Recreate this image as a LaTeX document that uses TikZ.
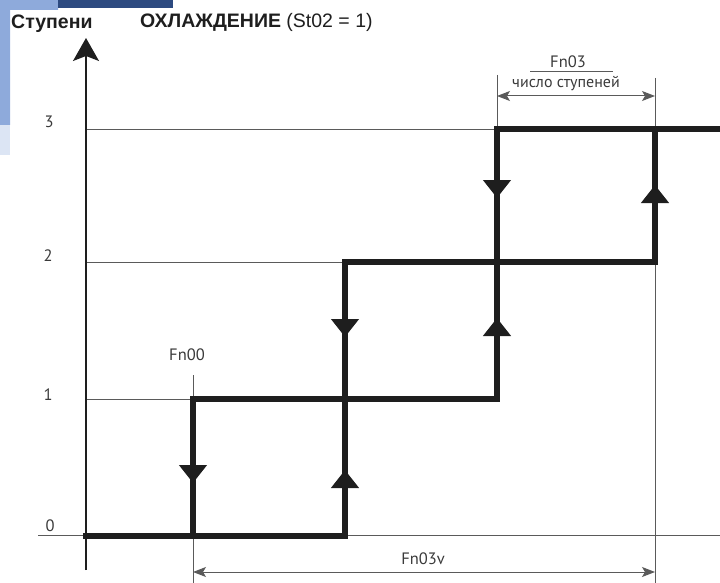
\documentclass[tikz,border=0pt]{standalone}
\usepackage{fontspec}
\setmainfont{PT Sans}
\newfontfamily\titlefont{Liberation Sans}
\usetikzlibrary{arrows.meta, decorations.markings}
\definecolor{stblack}{HTML}{1E1E1E}
\definecolor{stgray}{HTML}{3A3A3A}
\definecolor{gridgray}{HTML}{5A5A5A}
\definecolor{slidelight}{HTML}{8EAADB}
\definecolor{slidefade}{HTML}{DCE5F4}
\definecolor{slidedark}{HTML}{2D4A80}
\tikzset{
  stair/.style={line width=6pt, stblack, line cap=rect},
  gridln/.style={gridgray, line width=0.9pt},
  axisln/.style={stblack, line width=1.3pt,
    -{Stealth[width=26pt,length=23pt,inset=5pt]}},
  dimln/.style={gridgray, line width=1pt,
    {Stealth[width=10pt,length=13pt,inset=3pt]}-{Stealth[width=10pt,length=13pt,inset=3pt]}},
  lbl/.style={font=\fontsize{16.5}{18}\selectfont, text=stgray, inner sep=0pt},
  ttl/.style={font=\titlefont\fontsize{19.5}{21}\selectfont, text=stblack,
    inner sep=0pt, anchor=base west},
  flow/.style={postaction={decorate}, decoration={markings,
    mark=at position #1 with {\arrow{Triangle[width=27pt,length=18pt]}}}},
}
\begin{document}
\begin{tikzpicture}[x=1pt, y=-1pt]
\useasboundingbox (0,0) rectangle (720,583);

% ---- slide background ----
\fill[slidefade] (0,125) rectangle (10,155);
\fill[slidelight] (0,0) -- (58,0) -- (58,10) -- (10,10) -- (10,125) -- (0,125) -- cycle;
\fill[slidedark] (58,0) rectangle (173,8);

% ---- titles ----
\node[ttl] (ylabel) at (11,29) {\bfseries Ступени};
\node[ttl] (title) at (140,28) {\bfseries ОХЛАЖДЕНИЕ \mdseries(St02 = 1)};

% ---- level labels ----
\node[lbl] (l3) at (49,122) {3};
\node[lbl] (l2) at (48,256) {2};
\node[lbl] (l1) at (48,395) {1};
\node[lbl] (l0) at (50,526) {0};

% ---- staircase points ----
\coordinate (o0) at (86,536);
\coordinate (a1) at (193,399);
\coordinate (a0) at (193,536);
\coordinate (b0) at (345,536);
\coordinate (b1) at (345,399);
\coordinate (b2) at (345,262);
\coordinate (c1) at (497,399);
\coordinate (c2) at (497,262);
\coordinate (c3) at (497,129);
\coordinate (d2) at (655,262);
\coordinate (d3) at (655,129);
\coordinate (e3) at (720,129);

% ---- grid and axis ----
\draw[gridln] (86,129) -- (e3);
\draw[gridln] (86,262) -- (b2);
\draw[gridln] (86,399) -- (a1);
\draw[gridln] (38,535) -- (720,535);
\draw[gridln] (193,375) -- (193,583);
\draw[gridln] (497,75) -- (c3);
\draw[gridln] (655,78) -- (655,583);
\draw[axisln] (86,570) -- (86,38);

% ---- steps ----
\draw[stair] (o0) -- (b0);
\draw[stair] (a1) -- (c1);
\draw[stair] (b2) -- (d2);
\draw[stair] (c3) -- (e3);
\draw[stair, flow=84pt] (a1) -- (a0);
\draw[stair, flow=66pt] (b0) -- (b1);
\draw[stair, flow=75pt] (b2) -- (b1);
\draw[stair, flow=81pt] (c1) -- (c2);
\draw[stair, flow=69pt] (c3) -- (c2);
\draw[stair, flow=77pt] (d2) -- (d3);

% ---- Fn03 ----
\coordinate (fn03l) at (497,96);
\coordinate (fn03r) at (655,96);
\draw[dimln] (fn03l) -- (fn03r);
\node[lbl] (fn03) at (568,62) {Fn03};
\draw[gridln] (530,71) -- (613,71);
\node[lbl, font=\fontsize{16}{17}\selectfont] (nsteps) at (566,84) {число ступеней};

% ---- Fn00 / Fn03v ----
\node[lbl] (fn00) at (187,355) {Fn00};
\coordinate (fn03vl) at (193,572);
\coordinate (fn03vr) at (655,572);
\draw[dimln] (fn03vl) -- (fn03vr);
\node[lbl] (fn03v) at (423,559) {Fn03v};

\end{tikzpicture}
\end{document}
